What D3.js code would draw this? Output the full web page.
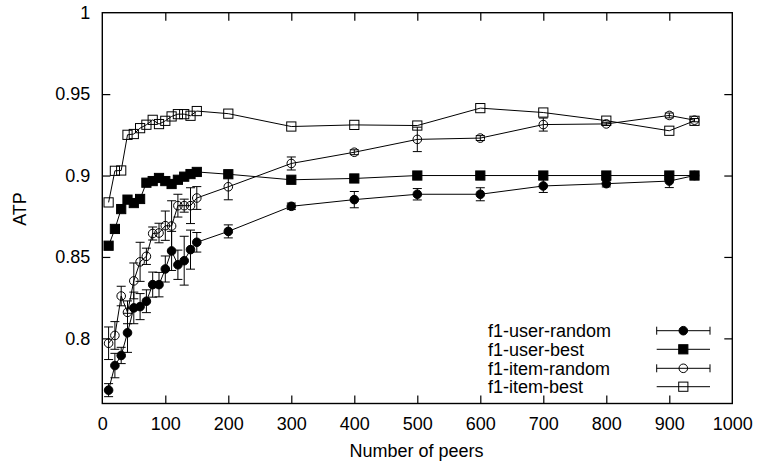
<!DOCTYPE html>
<html>
<head>
<meta charset="utf-8">
<script src="https://cdn.jsdelivr.net/npm/d3@7"></script>
<style>
  html, body { margin: 0; padding: 0; background: #fff; }
  svg { display: block; font-family: "Liberation Sans", Arial, Helvetica, sans-serif; }
</style>
</head>
<body>
<svg id="chart" width="757" height="464"></svg>
<script>
// ---- data ----
const peers = [10, 20, 30, 40, 50, 60, 70, 80, 90, 100, 110, 120, 130, 140, 150, 200, 300, 400, 500, 600, 700, 800, 900, 940];

const userRandom = [0.7682, 0.7833, 0.7895, 0.8034, 0.8187, 0.8195, 0.8228, 0.8330, 0.8330, 0.8426, 0.8537, 0.8452, 0.8477, 0.8545, 0.8590, 0.8657, 0.8811, 0.8852, 0.8885, 0.8885, 0.8936, 0.8950, 0.8966, 0.9000];
const userRandomErr = [0.004, 0.0075, 0.005, 0.012, 0.0097, 0.008, 0.007, 0.0077, 0.0075, 0.008, 0.012, 0.009, 0.015, 0.012, 0.006, 0.004, 0.002, 0.005, 0.0035, 0.004, 0.004, 0.002, 0.004, 0.001];

const userBest = [0.8569, 0.8672, 0.8794, 0.8852, 0.8831, 0.8856, 0.8956, 0.8966, 0.8985, 0.8966, 0.8948, 0.8974, 0.8993, 0.9009, 0.9022, 0.9008, 0.8974, 0.8982, 0.9000, 0.9000, 0.9000, 0.9000, 0.9000, 0.9000];

const itemRandom = [0.7970, 0.8018, 0.8260, 0.8160, 0.8353, 0.8470, 0.8504, 0.8644, 0.8647, 0.8692, 0.8690, 0.8815, 0.8815, 0.8815, 0.8862, 0.8931, 0.9074, 0.9143, 0.9222, 0.9230, 0.9313, 0.9317, 0.9369, 0.9340];
const itemRandomErr = [0.010, 0.0085, 0.006, 0.007, 0.011, 0.012, 0.005, 0.004, 0.006, 0.009, 0.0155, 0.007, 0.004, 0.011, 0.007, 0.008, 0.004, 0.0015, 0.0075, 0.0015, 0.004, 0.001, 0.0015, 0.001];

const itemBest = [0.8835, 0.9029, 0.9031, 0.9250, 0.9255, 0.9291, 0.9312, 0.9342, 0.9316, 0.9336, 0.9363, 0.9377, 0.9377, 0.9367, 0.9396, 0.9380, 0.9301, 0.9311, 0.9307, 0.9414, 0.9387, 0.9337, 0.9275, 0.9336];

const seriesNames = ["f1-user-random", "f1-user-best", "f1-item-random", "f1-item-best"];
const xTicks = [0, 100, 200, 300, 400, 500, 600, 700, 800, 900, 1000];
const yTicks = [0.8, 0.85, 0.9, 0.95, 1];
const yTickLabels = ["0.8", "0.85", "0.9", "0.95", "1"];
const xTitle = "Number of peers";
const yTitle = "ATP";

// ---- layout ----
const L = 102.3, R = 732.3, T = 12.7, B = 403.5;
const svg = d3.select("#chart");
const x = d3.scaleLinear().domain([0, 1000]).range([L, R]);
const y = d3.scaleLinear().domain([0.76, 1]).range([B, T]);
const FS = 18;
const tickLen = 8;

// axes (ticks inward, mirrored)
const axB = svg.append("g").attr("transform", `translate(0,${B})`)
  .call(d3.axisBottom(x).tickValues(xTicks).tickSize(-tickLen).tickPadding(tickLen + 6).tickFormat(d3.format("d")));
const axT = svg.append("g").attr("transform", `translate(0,${T})`)
  .call(d3.axisTop(x).tickValues(xTicks).tickSize(-tickLen).tickFormat(""));
const axL = svg.append("g").attr("transform", `translate(${L},0)`)
  .call(d3.axisLeft(y).tickValues(yTicks).tickSize(-tickLen).tickPadding(tickLen + 4)
    .tickFormat((d, i) => yTickLabels[i]));
const axR = svg.append("g").attr("transform", `translate(${R},0)`)
  .call(d3.axisRight(y).tickValues(yTicks).tickSize(-tickLen).tickFormat(""));
[axB, axT, axL, axR].forEach(a => {
  a.select(".domain").remove();
  a.selectAll(".tick line").attr("stroke", "#000").attr("stroke-width", 1.2);
  a.selectAll("text").attr("font-size", FS).attr("fill", "#000")
    .attr("font-family", "'Liberation Sans', Arial, Helvetica, sans-serif");
});
axB.selectAll(".tick").filter(d => d === 0 || d === 1000).select("line").remove();
axT.selectAll(".tick").filter(d => d === 0 || d === 1000).select("line").remove();
axL.selectAll(".tick").filter(d => d === 1).select("line").remove();
axR.selectAll(".tick").filter(d => d === 1).select("line").remove();

// border
svg.append("rect").attr("x", L).attr("y", T).attr("width", R - L).attr("height", B - T)
  .attr("fill", "none").attr("stroke", "#000").attr("stroke-width", 1.4);

// titles
svg.append("text").attr("x", 416.5).attr("y", 457).attr("text-anchor", "middle")
  .attr("font-size", FS).text(xTitle);
svg.append("text").attr("transform", "translate(26,209) rotate(-90)").attr("text-anchor", "middle")
  .attr("font-size", FS).text(yTitle);

// series
const series = [
  { name: seriesNames[0], vals: userRandom, err: userRandomErr, marker: "circle", fill: "#000" },
  { name: seriesNames[1], vals: userBest, err: null, marker: "square", fill: "#000" },
  { name: seriesNames[2], vals: itemRandom, err: itemRandomErr, marker: "circle", fill: "none" },
  { name: seriesNames[3], vals: itemBest, err: null, marker: "square", fill: "none" }
];

const line = d3.line().x(d => x(d[0])).y(d => y(d[1]));
const capW = 4.5;

function drawMarker(g, cx, cy, s) {
  if (s.marker === "circle") {
    g.append("circle").attr("cx", cx).attr("cy", cy).attr("r", 4.3)
      .attr("fill", s.fill === "none" ? "none" : "#000").attr("stroke", "#000").attr("stroke-width", 1);
  } else {
    const h = 4.6;
    g.append("rect").attr("x", cx - h).attr("y", cy - h).attr("width", 2 * h).attr("height", 2 * h)
      .attr("fill", s.fill === "none" ? "none" : "#000").attr("stroke", "#000").attr("stroke-width", 1);
  }
}

series.forEach(s => {
  const g = svg.append("g");
  const pts = peers.map((p, i) => [p, s.vals[i]]);
  g.append("path").attr("d", line(pts)).attr("fill", "none").attr("stroke", "#000").attr("stroke-width", 1);
  if (s.err) {
    pts.forEach((d, i) => {
      const cx = x(d[0]), y1 = y(d[1] - s.err[i]), y2 = y(d[1] + s.err[i]);
      g.append("line").attr("x1", cx).attr("x2", cx).attr("y1", y1).attr("y2", y2).attr("stroke", "#000");
      [y1, y2].forEach(yy => g.append("line").attr("x1", cx - capW).attr("x2", cx + capW)
        .attr("y1", yy).attr("y2", yy).attr("stroke", "#000"));
    });
  }
  pts.forEach(d => drawMarker(g, x(d[0]), y(d[1]), s));
});

// legend
const legY = [330.7, 349.3, 368.3, 386.7];
const lx1 = 656.7, lx2 = 710, lmx = 683.3;
series.forEach((s, i) => {
  const g = svg.append("g");
  const yy = legY[i];
  g.append("text").attr("x", 488).attr("y", yy).attr("dy", "0.35em").attr("font-size", FS).text(s.name);
  g.append("line").attr("x1", lx1).attr("x2", lx2).attr("y1", yy).attr("y2", yy).attr("stroke", "#000");
  if (s.err) {
    [lx1, lx2].forEach(xx => g.append("line").attr("x1", xx).attr("x2", xx)
      .attr("y1", yy - 4).attr("y2", yy + 4).attr("stroke", "#000"));
  }
  drawMarker(g, lmx, yy, s);
});
</script>
</body>
</html>
